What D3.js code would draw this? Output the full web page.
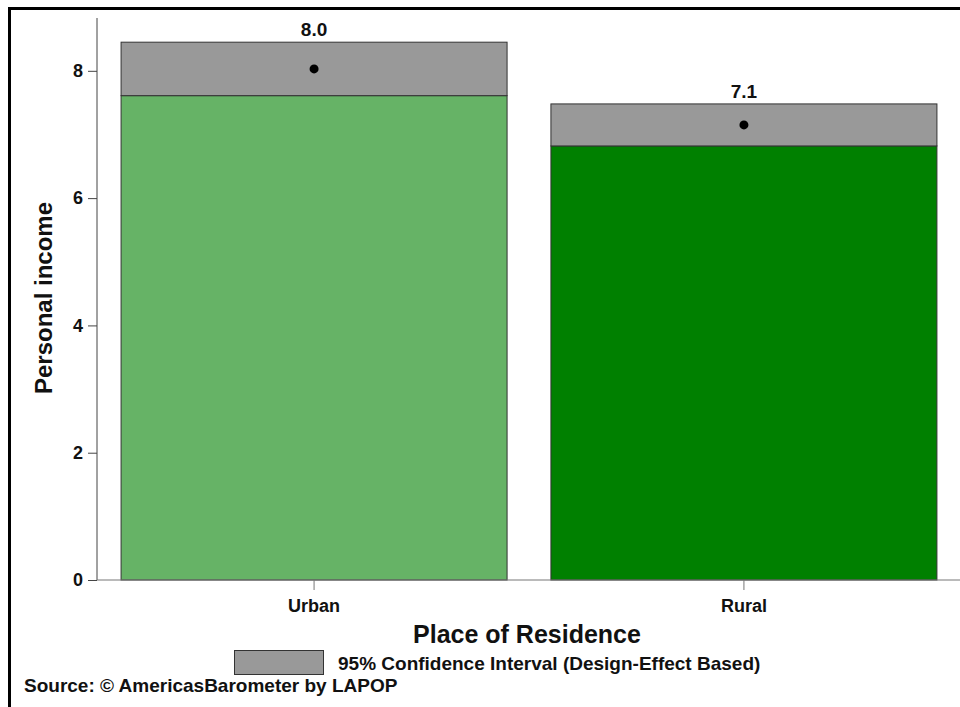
<!DOCTYPE html>
<html>
<head>
<meta charset="utf-8">
<script src="https://cdn.jsdelivr.net/npm/d3@7"></script>
<style>
  body { margin: 0; background: #fff; }
  svg { display: block; font-family: "Liberation Sans", Arial, sans-serif; font-weight: bold; }
</style>
</head>
<body>
<div id="chart"></div>
<script>
// data
const categories = ["Urban", "Rural"];
const means = [8.03, 7.15];
const ciLow = [7.61, 6.82];
const ciHigh = [8.45, 7.48];
const meanLabels = ["8.0", "7.1"];
const yTicks = [0, 2, 4, 6, 8];
const barColors = ["#66b366", "#008000"];

const W = 960, H = 707;
const font = "Liberation Sans, Arial, sans-serif";
const svg = d3.select("#chart")
  .append("svg")
  .attr("width", W)
  .attr("height", H);

// outer frame (right/bottom sides fall outside the picture)
svg.append("rect")
  .attr("x", 9.5)
  .attr("y", 8.5)
  .attr("width", 960)
  .attr("height", 710)
  .attr("fill", "none")
  .attr("stroke", "#000")
  .attr("stroke-width", 3);

const x = d3.scaleBand()
  .domain(categories)
  .range([97, 961])
  .paddingInner(0.102)
  .paddingOuter(0.056);

const y = d3.scaleLinear()
  .domain([0, 8.83])
  .range([580, 18]);

// bars: solid part up to lower CI, grey box for the CI
const g = svg.append("g");
categories.forEach((c, i) => {
  g.append("rect")
    .attr("x", x(c))
    .attr("y", y(ciLow[i]))
    .attr("width", x.bandwidth())
    .attr("height", y(0) - y(ciLow[i]))
    .attr("fill", barColors[i])
    .attr("stroke", "#333")
    .attr("stroke-width", 1);

  g.append("rect")
    .attr("x", x(c))
    .attr("y", y(ciHigh[i]))
    .attr("width", x.bandwidth())
    .attr("height", y(ciLow[i]) - y(ciHigh[i]))
    .attr("fill", "#999999")
    .attr("stroke", "#333")
    .attr("stroke-width", 1);

  g.append("circle")
    .attr("cx", x(c) + x.bandwidth() / 2)
    .attr("cy", y(means[i]))
    .attr("r", 4.5)
    .attr("fill", "#000");

  g.append("text")
    .attr("x", x(c) + x.bandwidth() / 2)
    .attr("y", y(ciHigh[i]) - 6)
    .attr("text-anchor", "middle")
    .attr("font-size", 19)
    .attr("fill", "#111")
    .text(meanLabels[i]);
});

// y axis
const yAxis = svg.append("g")
  .attr("transform", "translate(97,0)")
  .call(d3.axisLeft(y).tickValues(yTicks).tickSize(9).tickPadding(5).tickFormat(d3.format("d")));
yAxis.select(".domain").attr("stroke", "#444").attr("d", `M0,${y(0)}V18`);
yAxis.selectAll(".tick line").attr("stroke", "#444");
yAxis.selectAll(".tick text").attr("font-size", 18).attr("font-family", font).attr("font-weight", "bold").attr("fill", "#111");

// x axis
const xAxis = svg.append("g")
  .attr("transform", `translate(0,${y(0)})`)
  .call(d3.axisBottom(x).tickSize(10).tickPadding(9));
xAxis.select(".domain").attr("stroke", "#777").attr("d", `M97,0H960`);
xAxis.selectAll(".tick line").attr("stroke", "#777");
xAxis.selectAll(".tick text").attr("font-size", 18).attr("font-family", font).attr("font-weight", "bold").attr("fill", "#111");

// axis titles
svg.append("text")
  .attr("transform", "rotate(-90)")
  .attr("x", -298)
  .attr("y", 52)
  .attr("text-anchor", "middle")
  .attr("font-size", 24)
  .attr("fill", "#111")
  .text("Personal income");

svg.append("text")
  .attr("x", 527)
  .attr("y", 643)
  .attr("text-anchor", "middle")
  .attr("font-size", 25)
  .attr("fill", "#111")
  .text("Place of Residence");

// legend
svg.append("rect")
  .attr("x", 234.5)
  .attr("y", 650.5)
  .attr("width", 89)
  .attr("height", 24)
  .attr("fill", "#999999")
  .attr("stroke", "#333");

svg.append("text")
  .attr("x", 338)
  .attr("y", 670)
  .attr("font-size", 19)
  .attr("fill", "#111")
  .text("95% Confidence Interval (Design-Effect Based)");

svg.append("text")
  .attr("x", 24)
  .attr("y", 692)
  .attr("font-size", 19)
  .attr("fill", "#111")
  .text("Source: © AmericasBarometer by LAPOP");
</script>
</body>
</html>
